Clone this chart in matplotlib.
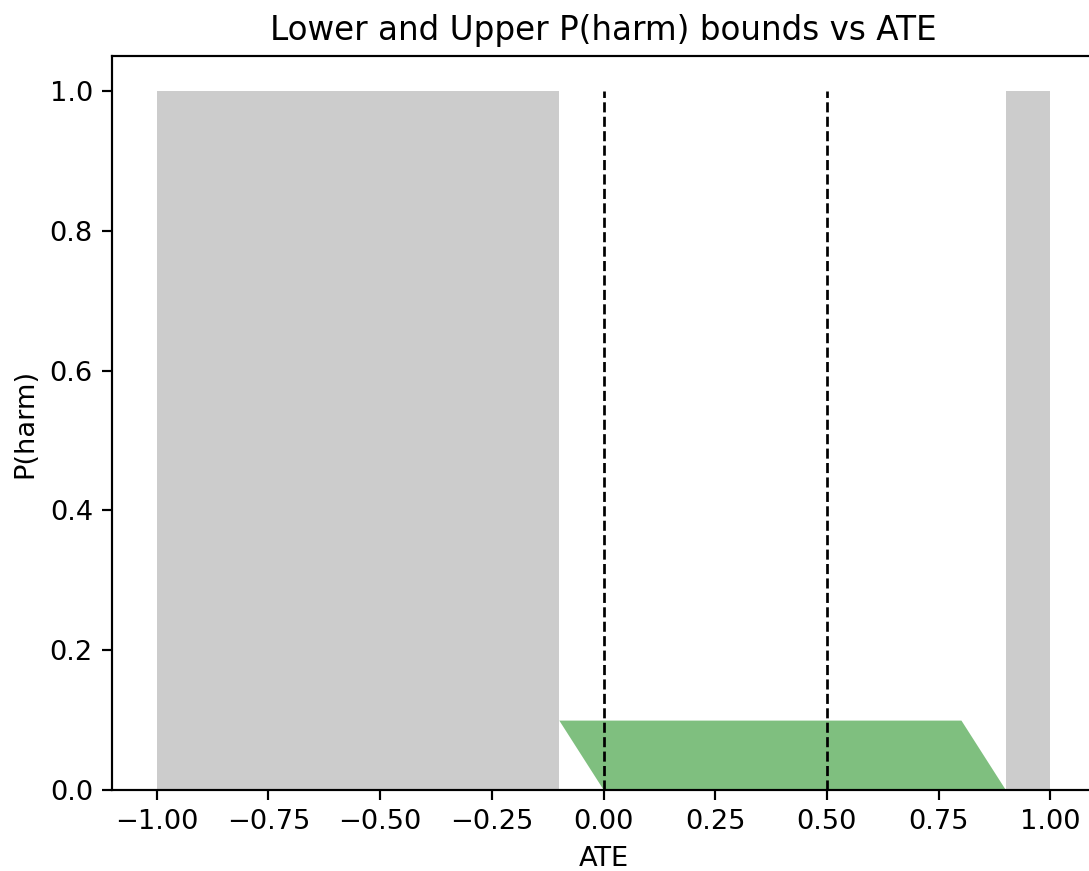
import numpy as np
import matplotlib.pyplot as plt

# undefined ATE regions (greyed out)
grey_regions = [(-1.0, -0.1), (0.9, 1.0)]

# lower / upper P(harm) bounds over the valid ATE range
ate = [-0.1, 0.0, 0.8, 0.9]
lower = [0.1, 0.0, 0.0, 0.0]
upper = [0.1, 0.1, 0.1, 0.0]

# reference lines
ref_ates = [0.0, 0.5]

W, H, dpi = 1089, 871, 196
fig = plt.figure(figsize=(W / dpi, H / dpi), dpi=dpi)
ax = fig.add_axes([112 / W, (H - 790) / H, (1095 - 112) / W, (790 - 56) / H])

for a, b in grey_regions:
    ax.fill_between([a, b], 0, 1, color='gray', alpha=0.4, linewidth=0)

ax.fill_between(ate, lower, upper, color='green', alpha=0.5, linewidth=0)

ax.vlines(ref_ates, 0, 1, colors='black', linestyles='--', linewidth=1)

ax.set_xlim(-1.1, 1.1)
ax.set_ylim(0, 1.05)
ax.set_xticks(np.arange(-1.0, 1.01, 0.25))
ax.set_xlabel('ATE')
ax.set_ylabel('P(harm)')
ax.set_title('Lower and Upper P(harm) bounds vs ATE')

fig.savefig('out.png', dpi=dpi)
